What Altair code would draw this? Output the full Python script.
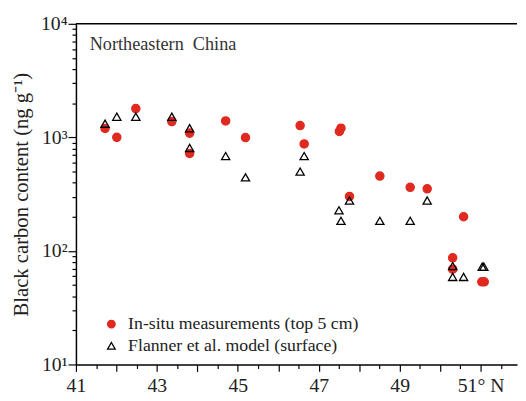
import altair as alt
import pandas as pd

insitu_lat = [41.72, 42.01, 42.48, 43.37, 43.81, 43.81, 44.70, 45.19, 46.54, 46.64,
              47.51, 47.55, 47.76, 48.51, 49.26, 49.68, 50.31, 50.31, 50.58, 51.03, 51.09]
insitu_bc = [1197, 1000, 1795, 1377, 1090, 722, 1396, 996, 1271, 875,
             1127, 1204, 302, 456, 363, 352, 87, 69, 200, 53.5, 53.5]

model_lat = [41.72, 42.01, 42.48, 43.37, 43.81, 43.81, 44.70, 45.19, 46.54, 46.64,
             47.50, 47.55, 47.76, 48.51, 49.26, 49.68, 50.31, 50.31, 50.58, 51.04, 51.08]
model_bc = [1320, 1520, 1520, 1520, 1204, 807, 684, 444, 500, 684,
            228, 184, 278, 184, 184, 278, 73.6, 59, 59, 72.6, 72.6]

series_names = ["In-situ measurements (top 5 cm)", "Flanner et al. model (surface)"]

x_ticks = [41 + 0.5 * i for i in range(22)]
y_ticks = [m * 10 ** e for e in range(1, 4) for m in range(1, 10)] + [10000]

df = pd.DataFrame(
    {"lat": insitu_lat + model_lat,
     "bc": insitu_bc + model_bc,
     "series": [series_names[0]] * len(insitu_lat) + [series_names[1]] * len(model_lat)}
)

FONT = "Liberation Serif"
RED = "#e02a20"
W, H = 448, 346

x_enc = alt.X(
    "lat:Q",
    scale=alt.Scale(domain=[41, 51.9], nice=False, zero=False),
    axis=alt.Axis(
        values=x_ticks,
        title=None,
        grid=False,
        labelFlush=False,
        labelOverlap=False,
        labelExpr="datum.value % 2 == 1 ? (datum.value == 51 ? '51° N' : datum.value) : ''",
        tickSize={"condition": {"test": "datum.value % 1 == 0", "value": 7}, "value": 4},
        labelPadding=4,
    ),
)
y_enc = alt.Y(
    "bc:Q",
    scale=alt.Scale(type="log", domain=[10, 10000], nice=False),
    axis=alt.Axis(
        values=y_ticks,
        title="Black carbon content (ng g⁻¹)",
        grid=False,
        labelFlush=False,
        labelOverlap=False,
        labelExpr="datum.value == 10 ? '10¹' : datum.value == 100 ? '10²' : datum.value == 1000 ? '10³' : datum.value == 10000 ? '10⁴' : ''",
        tickSize={"condition": {"test": "log(datum.value)/log(10) % 1 < 0.001 || log(datum.value)/log(10) % 1 > 0.999", "value": 8}, "value": 4},
        labelPadding=1,
        titlePadding=9,
        titleFontSize=21,
    ),
)

common_legend = alt.Legend(
    title=None,
    orient="none",
    legendX=27,
    legendY=296,
    labelFont=FONT,
    labelFontSize=18,
    labelColor="#222",
    labelLimit=0,
    symbolSize=60,
    symbolStrokeWidth=1.3,
    rowPadding=4,
    labelOffset=8,
    padding=0,
)

fill_scale = alt.Scale(domain=series_names, range=[RED, "transparent"])
stroke_scale = alt.Scale(domain=series_names, range=[RED, "black"])
shape_scale = alt.Scale(domain=series_names, range=["circle", "triangle-up"])

points = alt.Chart(df).mark_point(size=70, strokeWidth=1.3, opacity=1).encode(
    x=x_enc,
    y=y_enc,
    fill=alt.Fill("series:N", scale=fill_scale, legend=common_legend, sort=series_names),
    stroke=alt.Stroke("series:N", scale=stroke_scale, legend=common_legend, sort=series_names),
    shape=alt.Shape("series:N", scale=shape_scale, legend=common_legend, sort=series_names),
)

top_line = alt.Chart(pd.DataFrame({"a": [0]})).mark_rule(color="black", strokeWidth=1.5).encode(
    x=alt.value(0), x2=alt.value(W), y=alt.value(0)
)

title = alt.Chart(pd.DataFrame({"t": ["Northeastern\u2002China"]})).mark_text(
    align="left", baseline="middle", font=FONT, fontSize=18.5, color="#333"
).encode(x=alt.value(14), y=alt.value(21), text="t:N")

chart = (
    alt.layer(points, top_line, title)
    .properties(
        width=W,
        height=H,
        autosize=alt.AutoSizeParams(type="none"),
        padding={"left": 69, "top": 13, "right": 1, "bottom": 32},
    )
    .configure_view(stroke=None)
    .configure_axis(
        labelFont=FONT,
        labelFontSize=20,
        labelColor="#222",
        titleFont=FONT,
        titleFontSize=20,
        titleFontWeight="normal",
        titleColor="#222",
        domainColor="black",
        domainWidth=1.5,
        tickColor="black",
        tickWidth=1.2,
    )
)

chart.save("out.html", embed_options={"renderer": "svg", "actions": False})
